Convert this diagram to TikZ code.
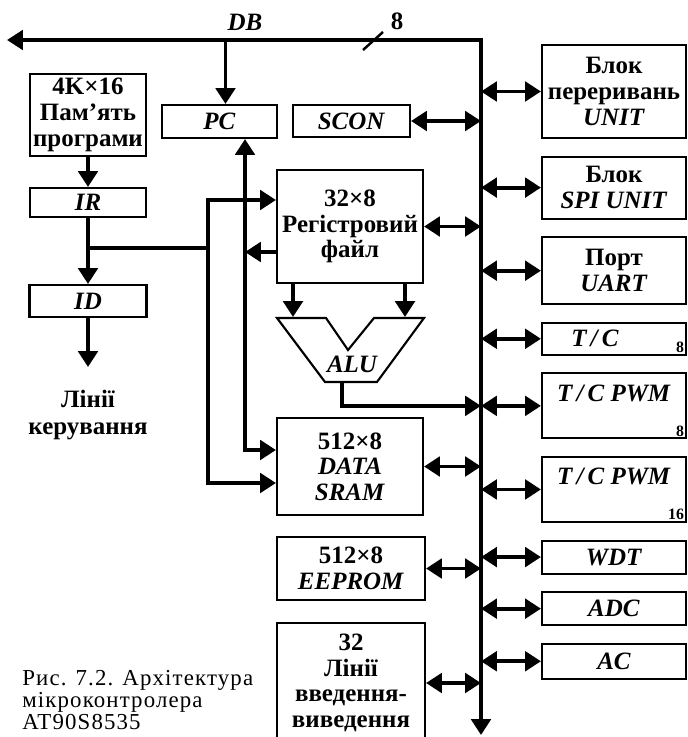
\documentclass[tikz,border=0pt]{standalone}
\usepackage{fontspec}
\setmainfont{Liberation Serif}
\usepackage{tikz}
\usetikzlibrary{arrows.meta, positioning}

\begin{document}
\begin{tikzpicture}[
  x=0.02cm, y=-0.02cm,
  node distance=0.33cm,
  >={Triangle[length=9pt,width=11pt]},
  box/.style={
    draw, line width=1.2pt, inner sep=0pt,
    minimum width=2.88cm,
    font=\fontsize{14.2}{14.6}\selectfont\bfseries, align=center,
  },
  lbl/.style={font=\fontsize{14.2}{15}\selectfont\bfseries, align=center, inner sep=0pt},
  sub/.style={font=\fontsize{9}{9}\selectfont\bfseries, inner sep=1.5pt},
  conn/.style={line width=2.2pt},
]
\useasboundingbox (0,0) rectangle (687,737);

\node[box, minimum width=2.32cm, minimum height=1.64cm] (mem) at (88,115) {4K×16\\Пам'ять\\програми};
\node[box, minimum width=2.32cm, minimum height=0.58cm] (ir)  at (88,202.5) {\textit{IR}};
\node[box, minimum width=2.34cm, minimum height=0.64cm] (id)  at (88,301) {\textit{ID}};
\node[lbl] (ctl) at (88,415) {Лінії\\керування};

\node[box, minimum width=2.3cm,  minimum height=0.66cm] (pc)   at (219.5,121.5) {\textit{PC}};
\node[box, minimum width=2.34cm, minimum height=0.64cm] (scon) at (351.5,121) {\textit{SCON}};
\node[box, minimum width=2.92cm, minimum height=2.26cm] (reg)  at (350,226.5) {32×8\\Регістровий\\файл};
\node[box, minimum width=2.92cm, minimum height=1.94cm] (sram) at (350,466.5) {512×8\\\textit{DATA}\\\textit{SRAM}};
\node[box, minimum width=2.96cm, minimum height=1.26cm] (eeprom) at (351,568.5) {512×8\\\textit{EEPROM}};
\node[box, minimum width=2.96cm, minimum height=2.4cm]  (io)   at (351,683) {32\\Лінії\\введення-\\виведення};
\node[lbl, font=\fontsize{14.2}{15}\selectfont\bfseries\itshape] (alu) at (352,364) {ALU};

\node[box, minimum height=1.86cm] (irq)  at (614,91.5) {Блок\\переривань\\\textit{UNIT}};
\node[box, minimum height=1.24cm] (spi)  [below=of irq]  {Блок\\\textit{SPI UNIT}};
\node[box, minimum height=1.34cm] (uart) [below=of spi]  {Порт\\\textit{UART}};
\node[box, minimum height=0.64cm, label={[sub, anchor=south east]south east:8}] (tc) [below=of uart] {\textit{T\,/\,C}\hspace{0.76cm}};
\node[box, minimum height=1.3cm, label={[sub, anchor=south east]south east:8}]  (pwma) [below=of tc]   {\textit{T\,/\,C PWM}\\~};
\node[box, minimum height=1.3cm, label={[sub, anchor=south east]south east:16}] (pwmb) [below=of pwma] {\textit{T\,/\,C PWM}\\~};
\node[box, minimum height=0.66cm] (wdt) [below=of pwmb] {\textit{WDT}};
\node[box, minimum height=0.66cm] (adc) [below=of wdt]  {\textit{ADC}};
\node[box, minimum height=0.7cm]  (ac)  [below=of adc]  {\textit{AC}};

\node[lbl, font=\fontsize{14.2}{15}\selectfont\bfseries\itshape] (db) at (245,22) {DB};
\node[lbl] (width) at (397,21) {8};
\node[align=left, inner sep=0pt, anchor=north west,
  font=\fontsize{13}{11.4}\selectfont\addfontfeature{LetterSpace=5}] (cap) at (22,670)
  {Рис. 7.2. Архітектура\\мікроконтролера\\AT90S8535};

\coordinate (dbl) at (7,40);
\coordinate (dbr) at (481,40);
\coordinate (dbe) at (481,735);
\draw[conn, <->] (dbl) -- (dbr) -- (dbe);
\draw[line width=1.4pt] (363,50) -- (383,32);

\draw[conn, ->] ([xshift=0.12cm]pc.north |- dbr) -- ([xshift=0.12cm]pc.north);
\draw[conn, ->] (mem) -- (ir);
\draw[conn, ->] (ir) -- (id);
\coordinate (ctlend) at (88,367);
\draw[conn, ->] (id) -- (ctlend);

\coordinate (j1) at (208,200);
\coordinate (j2) at (208,483);
\coordinate (j3) at (208,248);
\draw[conn] (ir.south |- j3) -- (j3);
\draw[conn, <->] (j2 -| sram.west) -- (j2) -- (j1) -- (j1 -| reg.west);

\coordinate (k1) at (245,450);
\coordinate (k2) at (245,252);
\draw[conn, <->] (k1 |- pc.south) -- (k1) -- (k1 -| sram.west);
\draw[conn, ->] (k2 -| reg.west) -- (k2);

\draw[line width=1.2pt] (277,318) -- (326,318) -- (348,350) -- (374,318) -- (424,318)
  -- (377,382) -- (325,382) -- cycle;
\coordinate (alua) at (293,317);
\coordinate (alub) at (405,317);
\coordinate (aluo) at (342,382);
\draw[conn, ->] (alua |- reg.south) -- (alua);
\draw[conn, ->] (alub |- reg.south) -- (alub);
\draw[conn, ->] (aluo) |- (pwma.west -| dbr);

\foreach \n in {scon, reg, sram, eeprom, io}
  \draw[conn, <->] (\n.east) -- (\n.east -| dbr);
\foreach \n in {irq, spi, uart, tc, pwma, pwmb, wdt, adc, ac}
  \draw[conn, <->] (\n.west -| dbr) -- (\n.west);
\end{tikzpicture}
\end{document}
